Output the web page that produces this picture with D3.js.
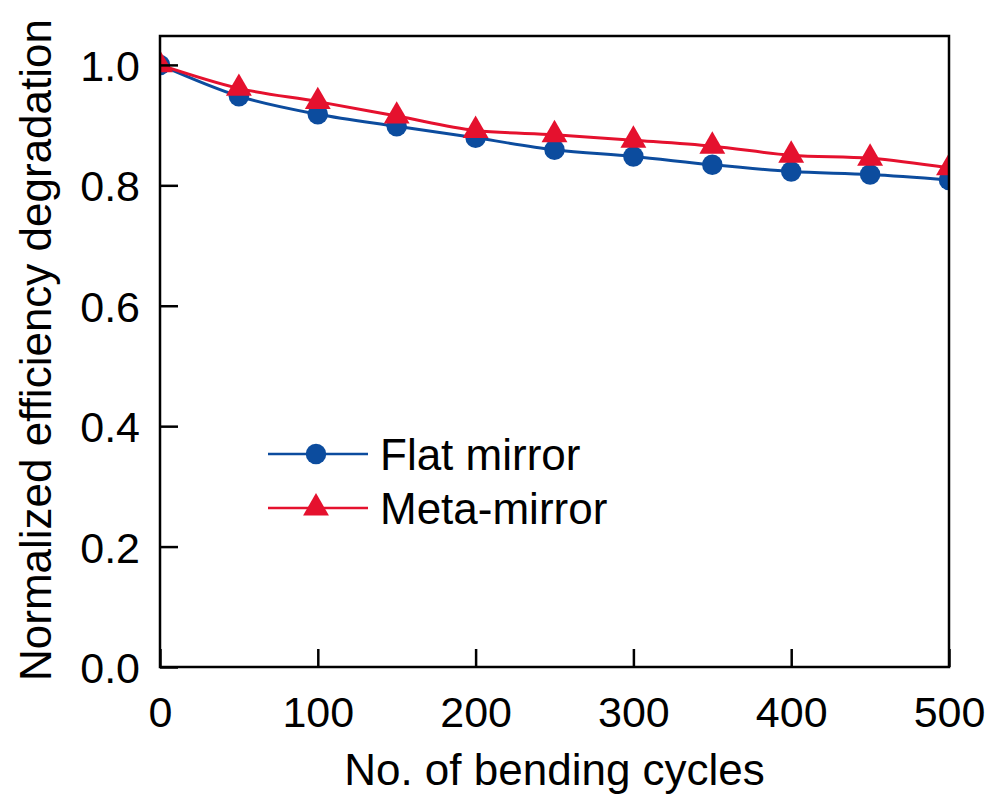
<!DOCTYPE html>
<html lang="en">
<head>
    <meta charset="UTF-8">
    <title>Bending cycles</title>
    <script src="https://cdn.jsdelivr.net/npm/d3@7"></script>
    <style>
        body {
            margin: 0;
            padding: 0;
            background: #ffffff;
        }
        text {
            font-family: "Liberation Sans", Arial, sans-serif;
            fill: #000000;
        }
        .tick text {
            font-size: 43px;
        }
        .axis path, .axis line {
            stroke: #000000;
            stroke-width: 2.5px;
        }
    </style>
</head>
<body>
    <div id="chart"></div>

    <script>
        // data
        var cycles = [0, 50, 100, 150, 200, 250, 300, 350, 400, 450, 500];
        var flatMirror = [1.0, 0.948, 0.918, 0.898, 0.879, 0.859, 0.848, 0.834, 0.823, 0.818, 0.809];
        var metaMirror = [1.0, 0.961, 0.939, 0.915, 0.891, 0.884, 0.875, 0.865, 0.850, 0.845, 0.829];
        var xTicks = [0, 100, 200, 300, 400, 500];
        var yTicks = [0.0, 0.2, 0.4, 0.6, 0.8, 1.0];
        var seriesNames = ["Flat mirror", "Meta-mirror"];
        var seriesColors = ["#0c4c9e", "#e5112e"];

        var W = 991, H = 794;
        var margin = { top: 36, right: 42, bottom: 127, left: 160 };
        var width = W - margin.left - margin.right;
        var height = H - margin.top - margin.bottom;

        var svg = d3.select("#chart")
            .append("svg")
            .attr("width", W)
            .attr("height", H);

        var g = svg.append("g")
            .attr("transform", "translate(" + margin.left + "," + margin.top + ")");

        var x = d3.scaleLinear().domain([0, 500]).range([0, width]);
        var y = d3.scaleLinear().domain([0, 1.048]).range([height, 0]);

        // clip so markers at the edges are cut by the frame
        g.append("clipPath").attr("id", "plotclip")
            .append("rect")
            .attr("width", width)
            .attr("height", height);

        var series = [
            { name: seriesNames[0], color: seriesColors[0], values: flatMirror, shape: d3.symbolCircle },
            { name: seriesNames[1], color: seriesColors[1], values: metaMirror, shape: d3.symbolTriangle }
        ];

        var line = d3.line()
            .x(function(d) { return x(d[0]); })
            .y(function(d) { return y(d[1]); })
            .curve(d3.curveMonotoneX);

        var plot = g.append("g").attr("clip-path", "url(#plotclip)");

        series.forEach(function(s) {
            var pts = cycles.map(function(c, i) { return [c, s.values[i]]; });
            plot.append("path")
                .datum(pts)
                .attr("fill", "none")
                .attr("stroke", s.color)
                .attr("stroke-width", 3)
                .attr("d", line);
        });

        series.forEach(function(s) {
            var pts = cycles.map(function(c, i) { return [c, s.values[i]]; });
            var size = s.shape === d3.symbolCircle ? 330 : 290;
            plot.selectAll(null)
                .data(pts)
                .join("path")
                .attr("transform", function(d) { return "translate(" + x(d[0]) + "," + y(d[1]) + ")"; })
                .attr("d", d3.symbol().type(s.shape).size(size))
                .attr("fill", s.color);
        });

        // axes, ticks pointing inward
        var xAxis = g.append("g")
            .attr("class", "axis")
            .attr("transform", "translate(0," + height + ")")
            .call(d3.axisBottom(x).tickValues(xTicks).tickSizeInner(-18).tickSizeOuter(0).tickPadding(29));
        xAxis.select(".domain").remove();

        var yAxis = g.append("g")
            .attr("class", "axis")
            .call(d3.axisLeft(y).tickValues(yTicks).tickFormat(d3.format(".1f")).tickSizeInner(-18).tickSizeOuter(0).tickPadding(20));
        yAxis.select(".domain").remove();
        yAxis.selectAll(".tick text").attr("dy", "0.36em");

        // frame
        g.append("rect")
            .attr("width", width)
            .attr("height", height)
            .attr("fill", "none")
            .attr("stroke", "#000")
            .attr("stroke-width", 2.5);

        // axis titles
        svg.append("text")
            .attr("x", margin.left + width / 2)
            .attr("y", 785)
            .attr("text-anchor", "middle")
            .style("font-size", "44px")
            .text("No. of bending cycles");

        svg.append("text")
            .attr("transform", "translate(51,350) rotate(-90)")
            .attr("text-anchor", "middle")
            .style("font-size", "44px")
            .text("Normalized efficiency degradation");

        // legend
        var legend = svg.selectAll(".legend")
            .data(series)
            .join("g")
            .attr("class", "legend")
            .attr("transform", function(d, i) { return "translate(268," + (454 + i * 54) + ")"; });

        legend.append("line")
            .attr("x1", 0).attr("x2", 100)
            .attr("stroke", function(d) { return d.color; })
            .attr("stroke-width", 2.5);

        legend.append("path")
            .attr("transform", "translate(48,0)")
            .attr("d", function(d) {
                return d3.symbol().type(d.shape).size(d.shape === d3.symbolCircle ? 330 : 290)();
            })
            .attr("fill", function(d) { return d.color; });

        legend.append("text")
            .attr("x", 112)
            .attr("dy", "0.36em")
            .style("font-size", "44px")
            .text(function(d) { return d.name; });
    </script>
</body>
</html>
